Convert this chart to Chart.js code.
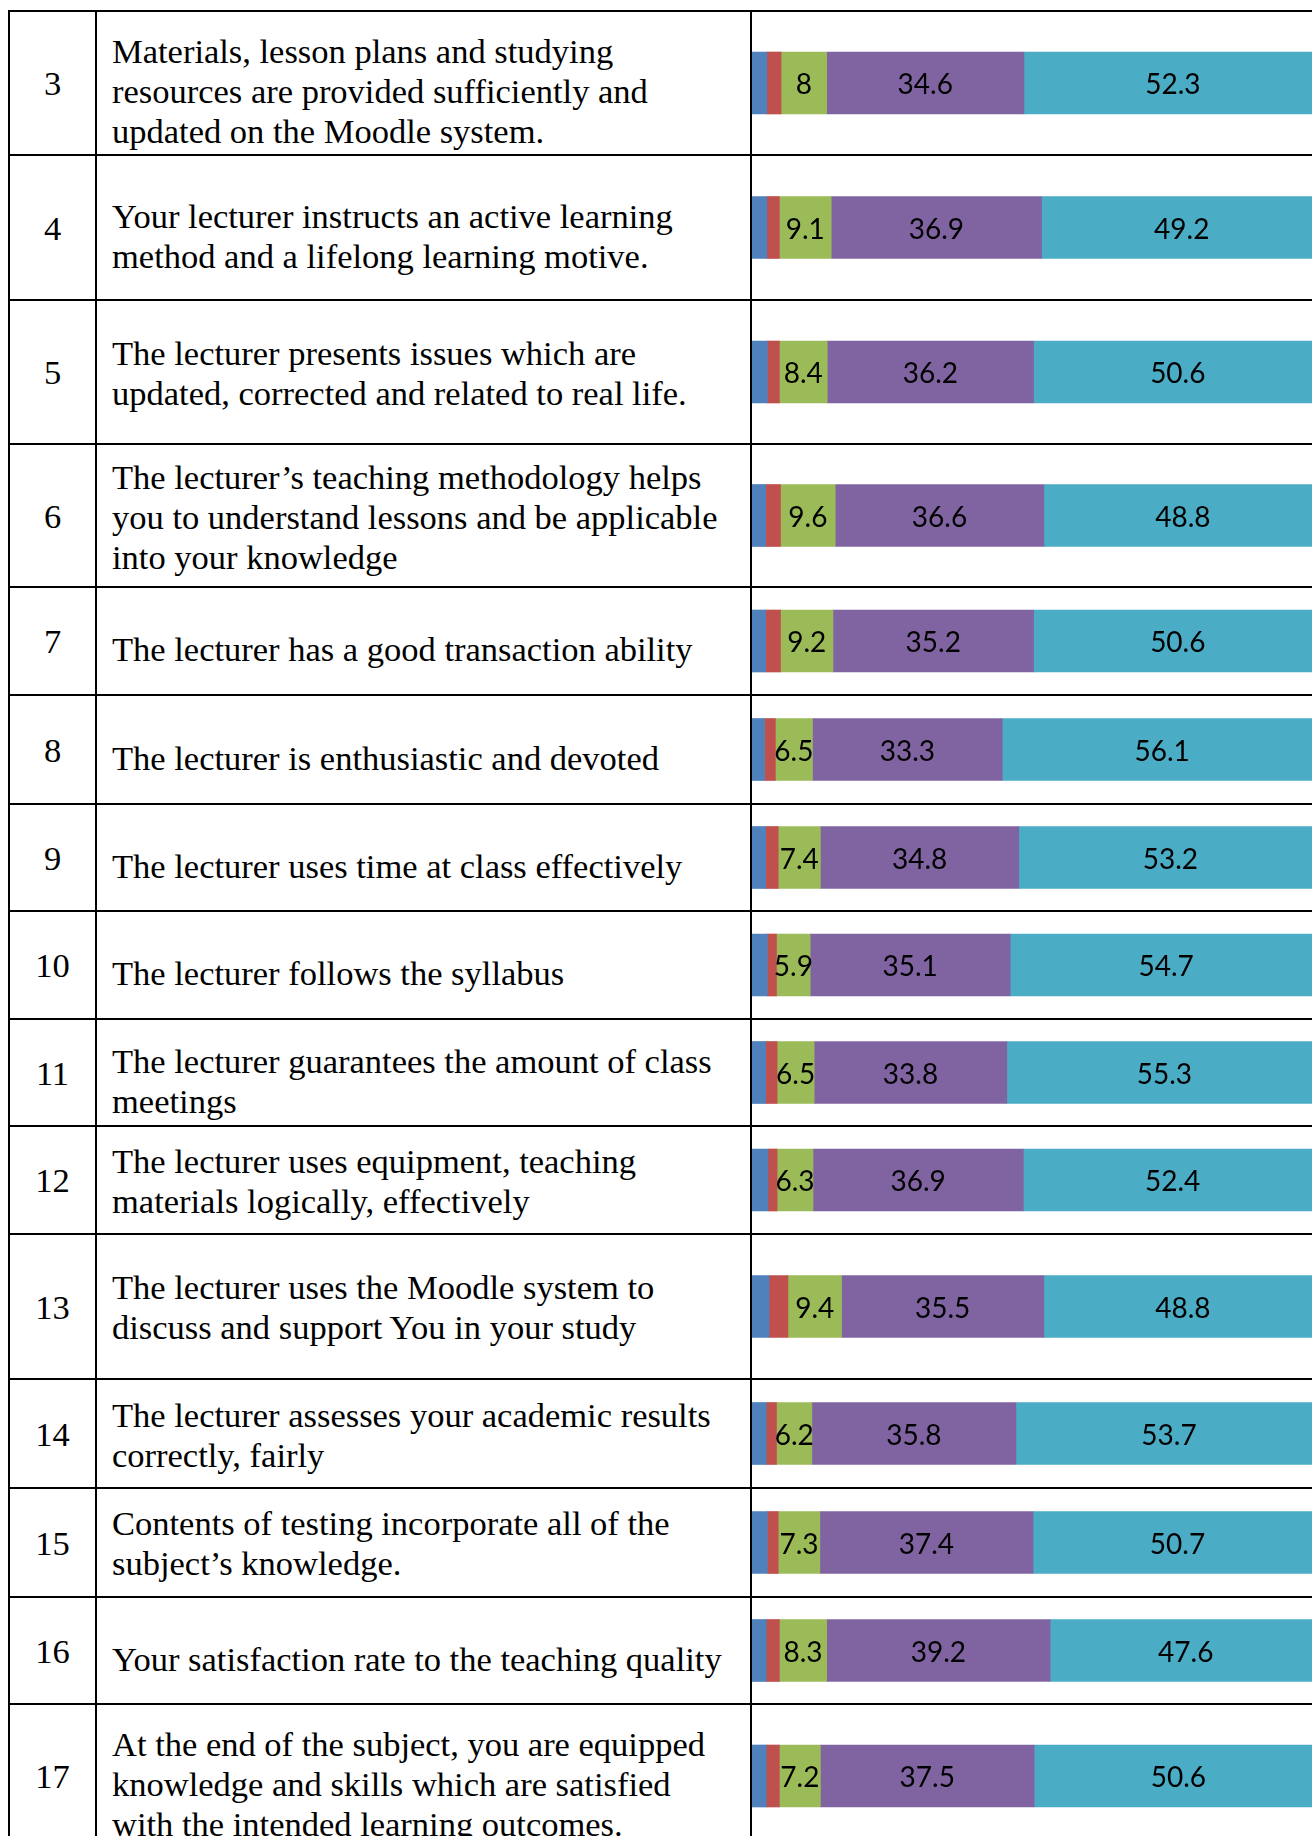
<!DOCTYPE html>
<html>
<head>
<meta charset="utf-8">
<script src="https://cdn.jsdelivr.net/npm/chart.js@4.4.1/dist/chart.umd.min.js"></script>
<style>
html,body{margin:0;padding:0;overflow:hidden;background:#fff;}
#page{position:relative;width:1312px;height:1836px;overflow:hidden;background:#fff;}
.hline{position:absolute;left:8px;width:1320px;height:2px;background:#000;}
.vline{position:absolute;width:2px;background:#000;}
.num{position:absolute;left:10px;width:85px;display:flex;align-items:center;justify-content:center;
  font-family:"Liberation Serif","Times New Roman",serif;font-size:34.5px;line-height:40px;color:#000;}
.txt{position:absolute;left:112px;width:640px;display:flex;align-items:center;
  font-family:"Liberation Serif","Times New Roman",serif;font-size:34.5px;line-height:40px;color:#000;white-space:pre;}
canvas.cv{position:absolute;left:752px;}
</style>
</head>
<body>
<div id="page"></div>
<script>
// ---- data ----
const items = ['3','4','5','6','7','8','9','10','11','12','13','14','15','16','17'];
const statements = [
  'Materials, lesson plans and studying\nresources are provided sufficiently and\nupdated on the Moodle system.',
  'Your lecturer instructs an active learning\nmethod and a lifelong learning motive.',
  'The lecturer presents issues which are\nupdated, corrected and related to real life.',
  'The lecturer\u2019s teaching methodology helps\nyou to understand lessons and be applicable\ninto your knowledge',
  'The lecturer has a good transaction ability',
  'The lecturer is enthusiastic and devoted',
  'The lecturer uses time at class effectively',
  'The lecturer follows the syllabus',
  'The lecturer guarantees the amount of class\nmeetings',
  'The lecturer uses equipment, teaching\nmaterials logically, effectively',
  'The lecturer uses the Moodle system to\ndiscuss and support You in your study',
  'The lecturer assesses your academic results\ncorrectly, fairly',
  'Contents of testing incorporate all of the\nsubject\u2019s knowledge.',
  'Your satisfaction rate to the teaching quality',
  'At the end of the subject, you are equipped\nknowledge and skills which are satisfied\nwith the intended learning outcomes.'
];
const blueVals   = [2.6, 2.6, 2.7, 2.4, 2.4, 2.2, 2.4, 2.7, 2.4, 2.8, 3.0, 2.5, 2.7, 2.5, 2.5];
const redVals    = [2.5, 2.2, 2.1, 2.6, 2.6, 1.9, 2.2, 1.6, 2.0, 1.6, 3.3, 1.8, 1.9, 2.3, 2.3];
const greenVals  = [8, 9.1, 8.4, 9.6, 9.2, 6.5, 7.4, 5.9, 6.5, 6.3, 9.4, 6.2, 7.3, 8.3, 7.2];
const purpleVals = [34.6, 36.9, 36.2, 36.6, 35.2, 33.3, 34.8, 35.1, 33.8, 36.9, 35.5, 35.8, 37.4, 39.2, 37.5];
const cyanVals   = [52.3, 49.2, 50.6, 48.8, 50.6, 56.1, 53.2, 54.7, 55.3, 52.4, 48.8, 53.7, 50.7, 47.6, 50.6];

// ---- layout (not data) ----
const tableTop = 11;
const rowHeights = [144,145,144,143,108,109,107,108,107,108,145,109,109,107,144];
const textShift  = [8,8,1,1,8,8,8,8,8,1,0,1,0,8,8];
const colors = ['#4F81BD','#C0504D','#9BBB59','#8064A2','#4BACC6'];
const seriesVals = [blueVals, redVals, greenVals, purpleVals, cyanVals];
const labelled = [false,false,true,true,true];

const page = document.getElementById('page');
function el(cls, css){ const d=document.createElement('div'); d.className=cls; Object.assign(d.style, css); page.appendChild(d); return d; }

let tops = []; let y = tableTop;
rowHeights.forEach(h => { tops.push(y); y += h; });
const bottom = y;

const labelPlugin = {
  id:'segLabels',
  afterDatasetsDraw(chart){
    const ctx = chart.ctx;
    ctx.save();
    ctx.font = '28px Lato, "Open Sans", sans-serif';
    ctx.fillStyle = '#000';
    ctx.textAlign = 'center';
    ctx.textBaseline = 'middle';
    chart.data.datasets.forEach((ds, di) => {
      if (!labelled[di]) return;
      const meta = chart.getDatasetMeta(di);
      meta.data.forEach((bar, i) => {
        const v = ds.data[i];
        const cx = (bar.x + bar.base) / 2;
        ctx.fillText(String(v), cx, bar.y + 2);
      });
    });
    ctx.restore();
  }
};

function build(){
  items.forEach((it, r) => {
    const top = tops[r], h = rowHeights[r];
    const n = el('num', {top: top+'px', height: h+'px'}); n.textContent = it;
    const t = el('txt', {top: (top + textShift[r])+'px', height: h+'px'}); t.textContent = statements[r];
    const cv = document.createElement('canvas');
    cv.className = 'cv'; cv.width = 570; cv.height = h;
    cv.style.top = top + 'px'; cv.style.width = '570px'; cv.style.height = h + 'px';
    page.appendChild(cv);
    new Chart(cv, {
      type: 'bar',
      data: {
        labels: [it],
        datasets: seriesVals.map((arr, k) => ({
          data: [arr[r]], backgroundColor: colors[k], borderWidth: 0, barThickness: 62
        }))
      },
      options: {
        indexAxis: 'y', responsive: false, animation: false, devicePixelRatio: 1,
        layout: {padding: 0},
        plugins: {legend: {display: false}, tooltip: {enabled: false}},
        scales: {
          x: {stacked: true, min: 0, max: 100, display: false},
          y: {stacked: true, display: false}
        }
      },
      plugins: [labelPlugin]
    });
  });
  // borders
  [tableTop, ...tops.slice(1), bottom].forEach(yy => el('hline', {top: (yy-1)+'px'}));
  [9, 96, 751].forEach(xx => el('vline', {left: (xx-1)+'px', top: (tableTop-1)+'px', height: (bottom-tableTop+2)+'px'}));
}

if (document.fonts && document.fonts.load) {
  Promise.all([document.fonts.load('28px Lato'), document.fonts.load('34.5px "Liberation Serif"')]).then(build, build);
} else build();
</script>
</body>
</html>
